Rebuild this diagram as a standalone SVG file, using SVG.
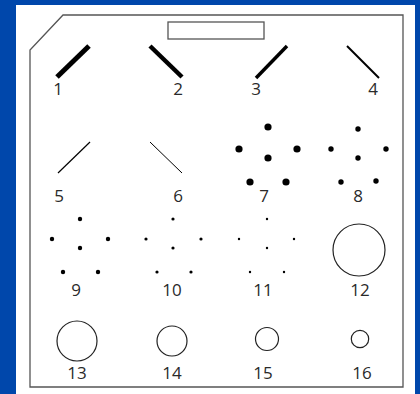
<svg xmlns="http://www.w3.org/2000/svg" width="420" height="394" viewBox="0 0 420 394">
<style>
.lbl{font-family:"Open Sans","Noto Sans","Liberation Sans",sans-serif;font-size:17px;fill:#2a2a2a;text-anchor:middle}
.ol{fill:none;stroke:#555;stroke-width:1.3}
.ln{stroke:#000;stroke-linecap:butt}
.c{fill:none;stroke:#222;stroke-width:1.2}
</style>
<rect x="0" y="0" width="420" height="394" fill="#0047ab"/>
<rect x="16" y="5" width="399" height="389" fill="#fff"/>
<g id="panel">
<path class="ol" d="M63,15 H403 V387 H30 V50 Z"/>
<rect class="ol" x="168" y="22" width="96" height="17"/>
</g>
<g id="n1"><line class="ln" x1="89" y1="46" x2="57" y2="77" stroke-width="5"/><text class="lbl" x="58" y="95">1</text></g>
<g id="n2"><line class="ln" x1="150" y1="46" x2="182" y2="77" stroke-width="4.5"/><text class="lbl" x="178" y="95">2</text></g>
<g id="n3"><line class="ln" x1="287" y1="46" x2="256" y2="78" stroke-width="3.5"/><text class="lbl" x="256" y="95">3</text></g>
<g id="n4"><line class="ln" x1="347" y1="46" x2="379" y2="78" stroke-width="2"/><text class="lbl" x="373" y="95">4</text></g>
<g id="n5"><line class="ln" x1="90" y1="142" x2="58" y2="173" stroke-width="1.2"/><text class="lbl" x="59" y="202">5</text></g>
<g id="n6"><line class="ln" x1="150" y1="142" x2="182" y2="173" stroke-width="1"/><text class="lbl" x="178" y="202">6</text></g>
<g id="n7" fill="#000"><circle cx="268" cy="127" r="3.6"/><circle cx="239" cy="149" r="3.6"/><circle cx="297" cy="149" r="3.6"/><circle cx="268" cy="158" r="3.6"/><circle cx="250" cy="182" r="3.6"/><circle cx="286" cy="182" r="3.6"/><text class="lbl" x="264" y="202">7</text></g>
<g id="n8" fill="#000"><circle cx="358" cy="129" r="2.7"/><circle cx="331" cy="149" r="2.7"/><circle cx="386" cy="149" r="2.7"/><circle cx="358" cy="158" r="2.7"/><circle cx="341" cy="182" r="2.7"/><circle cx="376" cy="181" r="2.7"/><text class="lbl" x="358" y="202">8</text></g>
<g id="n9" fill="#000"><circle cx="80" cy="219" r="2.2"/><circle cx="52" cy="239" r="2.2"/><circle cx="108" cy="239" r="2.2"/><circle cx="80" cy="248" r="2.2"/><circle cx="63" cy="272" r="2.2"/><circle cx="98" cy="272" r="2.2"/><text class="lbl" x="76" y="296">9</text></g>
<g id="n10" fill="#000"><circle cx="173" cy="219" r="1.6"/><circle cx="146" cy="239" r="1.6"/><circle cx="201" cy="239" r="1.6"/><circle cx="173" cy="248" r="1.6"/><circle cx="157" cy="272" r="1.6"/><circle cx="191" cy="272" r="1.6"/><text class="lbl" x="172" y="296">10</text></g>
<g id="n11" fill="#000"><circle cx="267" cy="219" r="1.2"/><circle cx="239" cy="239" r="1.2"/><circle cx="294" cy="239" r="1.2"/><circle cx="267" cy="248" r="1.2"/><circle cx="250" cy="272" r="1.2"/><circle cx="284" cy="272" r="1.2"/><text class="lbl" x="263" y="296">11</text></g>
<g id="n12"><circle class="c" cx="359" cy="250" r="26"/><text class="lbl" x="360" y="296">12</text></g>
<g id="n13"><circle class="c" cx="77" cy="341" r="20"/><text class="lbl" x="77" y="379">13</text></g>
<g id="n14"><circle class="c" cx="172" cy="341" r="15"/><text class="lbl" x="172" y="379">14</text></g>
<g id="n15"><circle class="c" cx="267" cy="339" r="11.5"/><text class="lbl" x="263" y="379">15</text></g>
<g id="n16"><circle class="c" cx="360" cy="339" r="8.7"/><text class="lbl" x="362" y="379">16</text></g>
<g id="connectors"/>
</svg>
